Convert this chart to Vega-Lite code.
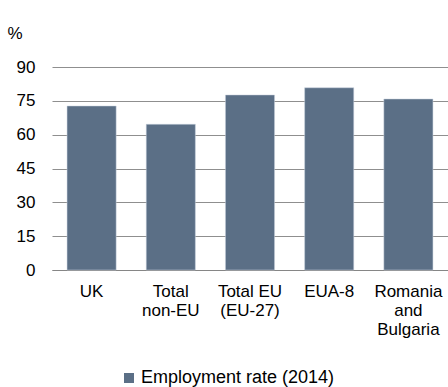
{
  "$schema": "https://vega.github.io/schema/vega-lite/v6.json",
  "autosize": {"type": "none"},
  "width": 396,
  "height": 203,
  "padding": {"left": 52, "top": 67, "right": 0, "bottom": 117},
  "background": "white",
  "config": {
    "view": {"stroke": null},
    "font": "Liberation Sans",
    "axis": {"labelFont": "Liberation Sans", "labelFontSize": 17, "labelColor": "#000000", "titleFont": "Liberation Sans"}
  },
  "data": {
    "values": [
      {"category": "UK", "value": 72.7, "series": "Employment rate (2014)"},
      {"category": "Total non-EU", "value": 64.6, "series": "Employment rate (2014)"},
      {"category": "Total EU (EU-27)", "value": 77.6, "series": "Employment rate (2014)"},
      {"category": "EUA-8", "value": 80.8, "series": "Employment rate (2014)"},
      {"category": "Romania and Bulgaria", "value": 75.8, "series": "Employment rate (2014)"}
    ]
  },
  "mark": {"type": "bar", "stroke": "#c9d3de", "strokeWidth": 0.5},
  "encoding": {
    "x": {
      "field": "category",
      "type": "nominal",
      "sort": null,
      "scale": {"paddingInner": 0.38, "paddingOuter": 0.19},
      "axis": {
        "title": null,
        "labelAngle": 0,
        "ticks": false,
        "domainColor": "#868686",
        "domainWidth": 1,
        "labelPadding": 13,
        "labelBaseline": "top",
        "labelLineHeight": 19,
        "labelExpr": "datum.value == 'Total non-EU' ? ['Total', 'non-EU'] : datum.value == 'Total EU (EU-27)' ? ['Total EU', '(EU-27)'] : datum.value == 'Romania and Bulgaria' ? ['Romania', 'and', 'Bulgaria'] : datum.value"
      }
    },
    "y": {
      "field": "value",
      "type": "quantitative",
      "scale": {"domain": [0, 90], "nice": false},
      "axis": {
        "values": [0, 15, 30, 45, 60, 75, 90],
        "title": "%",
        "titleAngle": 0,
        "titleAlign": "left",
        "titleBaseline": "middle",
        "titleX": -45,
        "titleY": -34,
        "titleFontSize": 17,
        "titleFontWeight": "normal",
        "titleColor": "#000000",
        "domain": false,
        "ticks": false,
        "labelPadding": 17,
        "gridColor": "#8f8f8f",
        "gridWidth": 1
      }
    },
    "color": {
      "field": "series",
      "type": "nominal",
      "scale": {"range": ["#5b6f86"]},
      "legend": {
        "title": null,
        "orient": "none",
        "legendX": 68,
        "legendY": 302,
        "symbolType": "square",
        "symbolSize": 100,
        "symbolStrokeWidth": 0,
        "labelFontSize": 18,
        "labelLimit": 400,
        "labelFont": "Liberation Sans",
        "labelColor": "#000000",
        "labelOffset": 3
      }
    }
  }
}
